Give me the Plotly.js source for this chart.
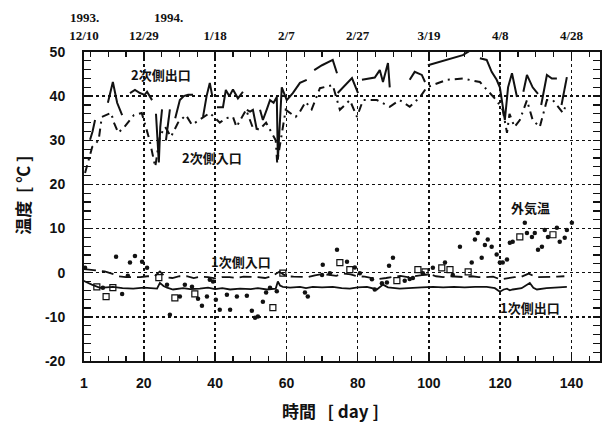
<!DOCTYPE html>
<html>
<head>
<meta charset="utf-8">
<script src="https://cdn.plot.ly/plotly-3.0.1.min.js"></script>
<style>html,body{margin:0;padding:0;background:#fff;}#chart{width:603px;height:423px;}</style>
</head>
<body>
<div id="chart"></div>
<script>
// ---- tick labels ----
var xTickVals = [3.2, 20, 40, 60, 80, 100, 120, 140];
var xTickText = ['1', '20', '40', '60', '80', '100', '120', '140'];
var dateTickText = ['12/10', '12/29', '1/18', '2/7', '2/27', '3/19', '4/8', '4/28'];
var yTickVals = [-20, -10, 0, 10, 20, 30, 40, 50];
var yTickText = ['-20', '-10', '0', '10', '20', '30', '40', '50'];

// ---- 2次側出口 (secondary outlet) ----
var secOutDay = [4.9,5.6,6.3,7.5, 9.9,10.6,11.3,12.5,13.9,15, 16.1,17.5,18.9,20.2,20.9,22.3,22.8,
  23.4,23.9,24.2,24.6,25.1,25.6, 26.2,27.3,28, 28.8,30.1,31.2,32.4,33.8,35,
  36.6,37.6,38.5,39.2,39.8, 40.5,42.2,43,44,45,46.4,47.8,48.3, 48.9,49.8,50.6,51.7,52.1,
  52.6,53.4,54.5,55.4,56.4,57.3,57.6,58.1,58.7,60.1,61.8,63.8,65.7,66.7,
  67.8,70,73,74.2,74.3, 74.4,76.5,78.4,80.1,80.6, 81.2,84.8,86.2,87.1,88.5,89,91,
  94.6,96,98,98.9,99.3, 99.7,104,109.5,111.5,113,
  114.3,116.2,117.6,119,119.9,121.3,122.2,123.3,124.7,125.6, 126.5,127.5,129.1,130.6,131,
  131.5,133.1,134.5,135.9,136.5, 137.2,138.7];
var secOutTemp = [30.1,32,34.6,null, 38.5,41,43.2,38.5,35.7,null, 40.7,41.4,40.7,40.3,41,39.1,null,
  36,28,25,33,37,null, 30,37,null, 35,39.1,40,40.3,40.3,null,
  35.3,40,43,40,null, 37.5,37.5,41.4,40,41.5,39.5,41,null, 36.9,36.5,36.9,32.4,null,
  36.9,34.6,37,39.1,38.5,39.8,25.6,34,42,39.1,40.7,43,43.7,null,
  45.9,47,48.2,45.2,null, 40.7,42.5,44.1,40.7,null, 43.7,44.2,45.9,43.2,47.5,42,null,
  43.7,45.5,44.8,43.2,null, 47,48,49.3,50.3,null,
  48.6,48.2,45.5,43.7,42,34.6,42,45.2,39.8,null, 41,44.8,42,40.5,null,
  38,44.8,44,44,null, 38,44.3];

// ---- 2次側入口 (secondary inlet) ----
var secInDay = [3.5,5.5,7.3,8.2,10.8,11.6,12.8,14.5,17.2,19.4,20.2,21.6,23.2,24.5,26,27.6,29.6,31.8,33.5,35.7,
  38.5,41.3,43,45,46,47,48.7,50.5,52.4,54.3,57,57.4,59.8,62.6,63.8,65.4,67.1,69.4,73,75,
  77.8,79.8,81.5,85.4,89,91.8,94.6,97.5,99.4,105,109.5,114.3,117.6,119,120.7,121.9,122.6,124,125.5,
  127.5,129.1,131.1,133.1,134.8,137.6,138.7];
var secInTemp = [22.6,28.5,30,35.3,36.2,34,31.7,33,35.7,36.2,34,30,24,31,33,30.8,34,35.7,33.5,34.6,
  36.2,34,35,35.3,33,34.5,36.9,33,32.4,34,30,25,36.9,35.3,36.5,38.7,37,41.8,42.5,36.9,
  39.1,35.3,39.1,39.1,37.6,39.1,37.6,39.8,42,43.7,44,43.2,40.3,39,36.9,31.7,36,33,34.6,
  39.1,34.6,33,39.1,39.1,36.2,38.5];

// ---- 1次側入口 (primary inlet) ----
var priInDay = [3.2,5,7,9,11,13,15,17,19,21,23,24.5,26,28,30,32,34,36,38,40,42,44,46,48,50,52,54,56,58,60,
  62,64,66,68,70,72,74,76,78,80,82,84,86,88,90,92,94,96,98,100,102,104,106,108,110,112,114,116,118,120,
  122,124,126,128,130,132,134,136,138];
var priInTemp = [0.8,0.6,0.5,0.3,-0.2,-0.8,-1.0,-1.0,-1.0,-0.8,-0.8,0.3,-1.0,-1.2,-0.8,-0.8,-1.2,-0.9,-1.0,-1.3,
  -1.0,-1.0,-1.2,-0.9,-0.9,-1.0,-1.2,-0.8,0.2,-0.8,-0.9,-0.9,-1.0,-0.6,-0.3,-0.5,-0.7,-0.2,-0.4,-0.8,
  -0.9,-1.2,-1.4,-1.2,-0.9,-0.7,-1.0,-0.8,-0.6,-0.3,-0.8,-1.0,-0.8,-0.9,-1.0,-0.8,-1.0,-1.0,-0.9,-1.5,
  -1.2,-1.0,-0.9,-0.2,-1.0,-1.0,-0.9,-0.9,-0.8];

// ---- 1次側出口 (primary outlet) ----
var priOutDay = [3.2,3.5,5.4,7.7,9.5,11.3,14,17,20,22.5,23.7,24.5,25.5,26.5,28.2,31,33,35.7,38,40,42,44.2,47,
  50,52,54.5,56.2,57,57.6,58.2,59,61,63.8,65.5,67.4,70,73,75.5,77.8,80,82.6,85.4,87.1,88.5,91.8,95,98,101.1,
  104,107,110,113,116.2,118.5,119.9,121,121.9,122.7,123.5,126,128.3,129.3,130.3,133,136,138.7];
var priOutTemp = [-1.8,-2.0,-2.7,-3.4,-3.3,-3.2,-3.5,-3.6,-3.4,-3.6,-3.6,-2.3,-3.0,-3.4,-3.8,-3.5,-3.7,-3.6,-3.4,-3.7,
  -3.5,-3.8,-3.6,-3.7,-3.5,-3.8,-3.7,-3.6,-2.0,-2.9,-3.2,-3.4,-3.2,-3.5,-3.2,-3.3,-3.2,-3.5,-3.6,-3.3,-3.2,
  -3.8,-2.7,-3.3,-3.6,-3.4,-3.3,-3.2,-3.3,-3.2,-3.3,-3.2,-3.2,-3.5,-4.3,-3.8,-3.6,-4.0,-3.8,-3.5,-2.3,-3.4,
  -3.8,-3.5,-3.4,-3.2];

// ---- 外気温 (outdoor air temperature) ----
var airDay = [3.5,8.5,12.2,13.9,15.5,16.1,17.5,19.5,20.9,26.5,27.3,30.1,31.5,33.5,35.2,36.3,37.7,38.5,39.4,40.2,
  41.3,43.3,44.2,46.1,48.9,50.3,51.2,52,53.4,54.3,55.4,57.3,65.2,66,70,70.2,72.2,74.2,77,79.2,80.6,84,84.8,
  86.8,88.2,88.8,89.9,93.2,94.6,95.5,98.3,101.1,104.5,106.7,108.7,112,112.9,113.7,114.8,115.7,116.5,117.6,119,
  119.9,120.7,121.9,122.7,123.5,126.9,127.5,128.9,129.7,130.6,131.7,132.5,133.4,135.9,136.7,138.1,138.7,140.1];
var airTemp = [1.1,-3.4,3.6,-4.8,-0.7,2.3,3.8,2.5,1.1,-2.7,-9.5,-5.4,-2.7,-3.2,-5.9,-7.5,-5.4,-1.6,-2,-6.1,
  -8.4,-5,-8.4,-5.4,-5.2,-8.6,-10.2,-9.9,-6.6,-4.5,-3.4,-4.2,-4.5,-5.4,-0.5,1.8,-0.1,5.2,2.5,1.2,-0.1,-1.5,-3.8,
  -2.4,-2.2,1.6,3.4,-1.8,-1.4,-1.2,-0.1,1.1,2.3,-0.5,5.9,2.3,7.5,9,3.4,6.3,7.5,5.9,4.1,
  2.3,2.3,3,6.8,7,11.3,9,8.1,9,5.2,5.9,9.7,8.1,10.2,7,7.9,9.7,11.3];
var airSqDay = [6.8,9.4,11.3,24.2,28.7,34.3,56.2,59,75,77.8,91,96.9,98.9,103.6,105.9,111,125.5,134.8];
var airSqTemp = [-3.2,-5.4,-3.4,-1.1,-5.7,-4.8,-7.9,-0.1,2.3,0.7,-1.8,0.7,0.2,1.1,0.7,0.2,8.1,8.6];

var xRange = [3.2, 148];
var yRange = [-20, 50];
var ink = '#111';

var traces = [
  {x: secOutDay, y: secOutTemp, mode: 'lines', connectgaps: false, line: {color: ink, width: 2}, hoverinfo: 'skip'},
  {x: secInDay, y: secInTemp, mode: 'lines', line: {color: ink, width: 2, dash: '8px,5px,2px,5px'}, hoverinfo: 'skip'},
  {x: priInDay, y: priInTemp, mode: 'lines', line: {color: ink, width: 1.8, dash: '12px,6px'}, hoverinfo: 'skip'},
  {x: priOutDay, y: priOutTemp, mode: 'lines', line: {color: ink, width: 1.8}, hoverinfo: 'skip'},
  {x: airDay, y: airTemp, mode: 'markers', marker: {symbol: 'circle', size: 4.5, color: ink}, hoverinfo: 'skip'},
  {x: airSqDay, y: airSqTemp, mode: 'markers', marker: {symbol: 'square-open', size: 6, color: ink, line: {width: 1.2, color: ink}}, hoverinfo: 'skip'},
  {x: [xRange[0]], y: [yRange[0]], xaxis: 'x2', mode: 'markers', marker: {opacity: 0}, hoverinfo: 'skip'}
];

var numFont = {family: 'Liberation Sans, Arial, sans-serif', size: 14, color: ink, weight: 'bold'};
var serifFont = {family: 'Liberation Serif, Times New Roman, serif', size: 13, color: ink, weight: 'bold'};
var jpFont = {family: 'Noto Sans CJK JP, sans-serif', size: 13, color: ink};
var titleFont = {family: 'Noto Sans CJK JP, sans-serif', size: 17, color: ink};

var layout = {
  width: 603, height: 423,
  margin: {l: 84, r: 3, t: 52, b: 62, pad: 0},
  paper_bgcolor: '#fff', plot_bgcolor: '#fff',
  showlegend: false,
  xaxis: {
    range: xRange, tickmode: 'array', tickvals: xTickVals, ticktext: xTickText,
    ticks: 'inside', ticklen: 7, tickwidth: 1.5, tickcolor: ink,
    showgrid: true, gridcolor: ink, griddash: 'dot', gridwidth: 1.5,
    showline: true, linewidth: 2, linecolor: ink, zeroline: false,
    tickfont: numFont, ticklabelstandoff: 8,
    minor: {tickmode: 'linear', tick0: 0, dtick: 5, ticks: 'inside', ticklen: 5, tickwidth: 1.2, tickcolor: ink, showgrid: false}
  },
  xaxis2: {
    overlaying: 'x', side: 'top', anchor: 'y',
    range: xRange, tickmode: 'array', tickvals: xTickVals, ticktext: dateTickText,
    ticks: 'inside', ticklen: 7, tickwidth: 1.5, tickcolor: ink,
    showgrid: false, showline: true, linewidth: 2, linecolor: ink, zeroline: false,
    tickfont: serifFont, ticklabelstandoff: 5,
    minor: {tickmode: 'linear', tick0: 0, dtick: 5, ticks: 'inside', ticklen: 5, tickwidth: 1.2, tickcolor: ink, showgrid: false}
  },
  yaxis: {
    range: yRange, tickmode: 'array', tickvals: yTickVals, ticktext: yTickText,
    ticks: 'inside', ticklen: 7, tickwidth: 1.5, tickcolor: ink,
    showgrid: true, gridcolor: ink, griddash: 'dot', gridwidth: 1.5,
    showline: true, linewidth: 2, linecolor: ink, zeroline: false, mirror: 'allticks',
    tickfont: numFont, ticklabelstandoff: 14,
    minor: {tickmode: 'linear', tick0: 0, dtick: 2, ticks: 'inside', ticklen: 5, tickwidth: 1.2, tickcolor: ink, showgrid: false}
  },
  annotations: [
    {text: '<b>1993.</b>', xref: 'x', yref: 'paper', x: 3.2, y: 1.113, xanchor: 'center', yanchor: 'middle', showarrow: false, font: serifFont},
    {text: '<b>1994.</b>', xref: 'x', yref: 'paper', x: 22.4, y: 1.113, xanchor: 'left', yanchor: 'middle', showarrow: false, font: serifFont},
    {text: '<b>2次側出口</b>', xref: 'x', yref: 'y', x: 24.8, y: 45.0, xanchor: 'center', yanchor: 'middle', showarrow: false, font: jpFont},
    {text: '<b>2次側入口</b>', xref: 'x', yref: 'y', x: 39.1, y: 26.2, xanchor: 'center', yanchor: 'middle', showarrow: false, font: jpFont},
    {text: '<b>1次側入口</b>', xref: 'x', yref: 'y', x: 47.2, y: 2.6, xanchor: 'center', yanchor: 'middle', showarrow: false, font: jpFont},
    {text: '<b>1次側出口</b>', xref: 'x', yref: 'y', x: 128.3, y: -7.9, xanchor: 'center', yanchor: 'middle', showarrow: false, font: jpFont},
    {text: '<b>外気温</b>', xref: 'x', yref: 'y', x: 128.6, y: 14.7, xanchor: 'center', yanchor: 'middle', showarrow: false, font: jpFont},
    {text: '<b>温度  [ ℃ ]</b>', xref: 'paper', yref: 'paper', x: -0.118, y: 0.535, xanchor: 'center', yanchor: 'middle',
      textangle: -90, showarrow: false, font: titleFont},
    {text: '<b>時間   [ day ]</b>', xref: 'paper', yref: 'paper', x: 0.477, y: -0.159, xanchor: 'center', yanchor: 'middle',
      showarrow: false, font: titleFont}
  ]
};

Plotly.newPlot('chart', traces, layout, {displayModeBar: false, staticPlot: true});
</script>
</body>
</html>
